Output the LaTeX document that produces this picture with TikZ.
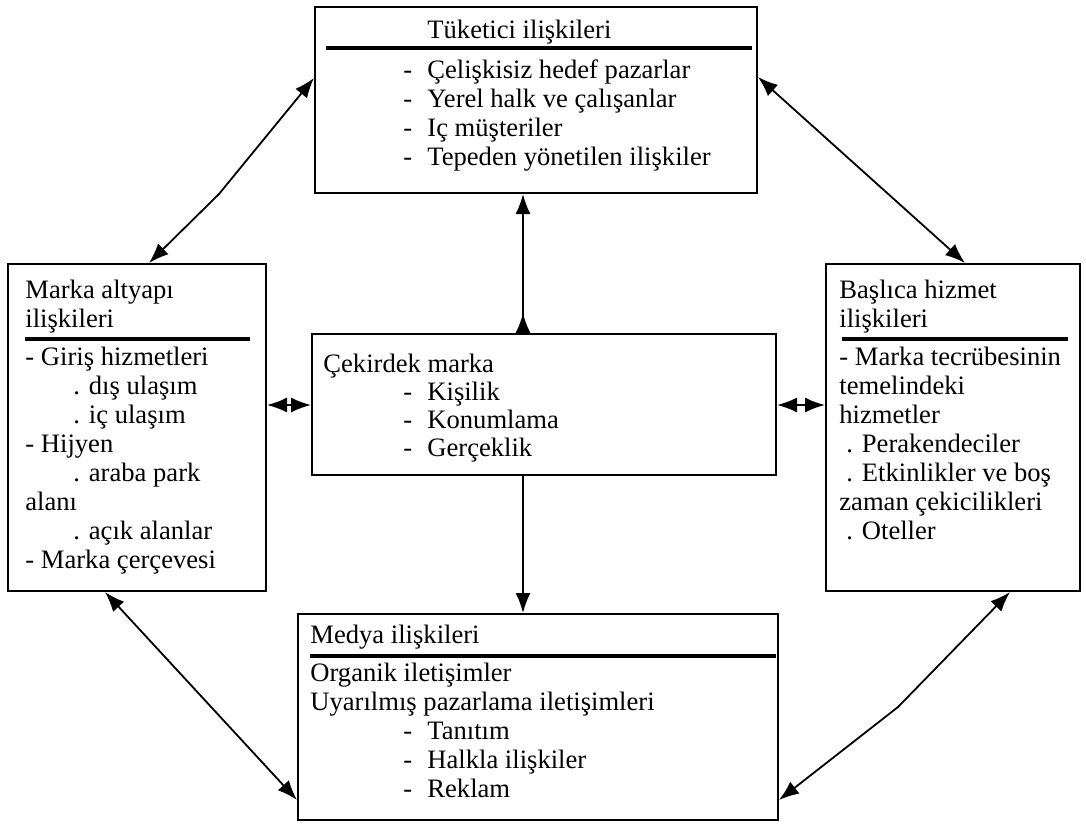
\documentclass[tikz,border=0pt]{standalone}
\usepackage{fontspec}
\setmainfont{Liberation Serif}
\usetikzlibrary{arrows.meta}
\begin{document}
\begin{tikzpicture}[x=0.5pt,y=-0.5pt,
  box/.style={draw,line width=1pt,rectangle,inner sep=0pt},
  ln/.style={anchor=base west,inner sep=0pt,font=\fontsize{13.3pt}{15pt}\selectfont},
  rule/.style={line width=1.6pt},
  con/.style={line width=0.9pt,{Latex[length=10pt,width=7.5pt]}-{Latex[length=10pt,width=7.5pt]}}]
\useasboundingbox (0,0) rectangle (1086,825);

% frames
\node[box,minimum width=221pt,minimum height=93pt] (tb) at (536,100) {};
\node[box,minimum width=129pt,minimum height=163.5pt] (lb) at (137,427.5) {};
\node[box,minimum width=232pt,minimum height=70.5pt] (cb) at (544,404.5) {};
\node[box,minimum width=127pt,minimum height=163.5pt] (rb) at (953,427.5) {};
\node[box,minimum width=240pt,minimum height=103pt] (bb) at (538,717) {};

% top frame: consumer relations
\node[ln] (tbh) at (427,38) {Tüketici ilişkileri};
\draw[rule] (326,48) -- (752,48);
\foreach \t/\y [count=\i] in {Çelişkisiz hedef pazarlar/78,Yerel halk ve çalışanlar/107,Iç müşteriler/136,Tepeden yönetilen ilişkiler/165}{
  \node[ln] (tbd\i) at (403,\y) {-};
  \node[ln] (tbt\i) at (427,\y) {\t};
}

% left frame: brand infrastructure
\node[ln] (lbh1) at (25,298) {Marka altyapı};
\node[ln] (lbh2) at (25,327) {ilişkileri};
\draw[rule] (25,339) -- (250,339);
\foreach \t/\x/\y [count=\i] in {- Giriş hizmetleri/25/365,. dış ulaşım/73/394,. iç ulaşım/73/423,- Hijyen/25/452,. araba park/73/481,alanı/25/510,. açık alanlar/73/539,- Marka çerçevesi/25/568}{
  \node[ln] (lbt\i) at (\x,\y) {\t};
}

% centre frame: core brand
\node[ln] (cbh) at (323,372) {Çekirdek marka};
\foreach \t/\y [count=\i] in {Kişilik/400,Konumlama/428,Gerçeklik/456}{
  \node[ln] (cbd\i) at (403,\y) {-};
  \node[ln] (cbt\i) at (427,\y) {\t};
}

% right frame: primary service relations
\node[ln] (rbh1) at (839,298) {Başlıca hizmet};
\node[ln] (rbh2) at (839,327) {ilişkileri};
\draw[rule] (842,339) -- (1068,339);
\foreach \t/\x/\y [count=\i] in {- Marka tecrübesinin/839/365,temelindeki/839/394,hizmetler/839/423,. Perakendeciler/846/452,. Etkinlikler ve boş/846/481,zaman çekicilikleri/839/510,. Oteller/846/539}{
  \node[ln] (rbt\i) at (\x,\y) {\t};
}

% bottom frame: media relations
\node[ln] (bbh) at (310,643) {Medya ilişkileri};
\draw[rule] (310,656) -- (776,656);
\node[ln] (bbt1) at (310,681) {Organik iletişimler};
\node[ln] (bbt2) at (310,710) {Uyarılmış pazarlama iletişimleri};
\foreach \t/\y [count=\i] in {Tanıtım/739,Halkla ilişkiler/768,Reklam/797}{
  \node[ln] (bbd\i) at (403,\y) {-};
  \node[ln] (bbu\i) at (427,\y) {\t};
}

% bend points of the diagonal links
\coordinate (k1) at (219,194);
\coordinate (k2) at (898,707);

% links
\draw[con] (lb.north -| 149,0) -- (k1) -- (tb.west |- 0,78);
\draw[con] (tb.east |- 0,77) -- (rb.north -| 965,0);
\draw[con] (lb.east |- 0,405) -- (cb.west |- 0,405);
\draw[con] (cb.east |- 0,405) -- (rb.west |- 0,405);
\draw[line width=0.9pt,{Latex[length=10pt,width=7.5pt,reversed]}-{Latex[length=10pt,width=7.5pt]}] (cb.north -| 523,0) -- (tb.south -| 523,0);
\draw[line width=0.9pt,-{Latex[length=10pt,width=7.5pt]}] (cb.south -| 523,0) -- (bb.north -| 523,0);
\draw[con] (lb.south -| 105,0) -- (bb.west |- 0,800);
\draw[con] (rb.south -| 1010,0) -- (k2) -- (bb.east |- 0,800);
\end{tikzpicture}
\end{document}
